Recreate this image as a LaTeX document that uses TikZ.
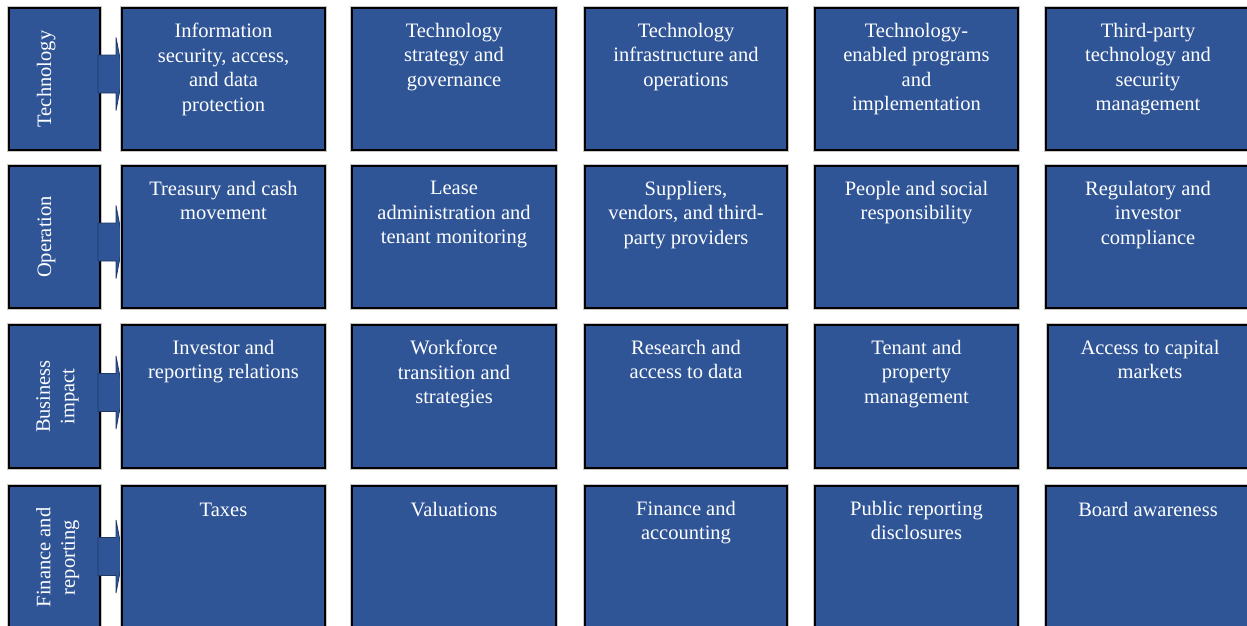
\documentclass[tikz,border=0pt]{standalone}
\usepackage{fontspec}
\setmainfont{Liberation Serif}
\definecolor{boxblue}{RGB}{47,85,151}
\definecolor{arrowedge}{RGB}{31,56,100}
\tikzset{
  box/.style={draw=black, line width=1.6pt, fill=boxblue, inner sep=0pt, outer sep=0pt,
    preaction={draw=gray!45, line width=3.6pt}},
  txt/.style={text=white, align=center, inner sep=0pt, anchor=north,
    font=\fontsize{20.5}{24.5}\selectfont, execute at begin node={\rule{0pt}{15pt}}},
  labtxt/.style={txt, rotate=90},
  blockarrow/.style={fill=boxblue, draw=arrowedge, line width=0.8pt, line join=miter}
}
% name, x1, y1, x2, y2, text
\newcommand{\cbox}[6]{%
  \node[box, minimum width={(#4-#2)*1pt}, minimum height={(#5-#3)*1pt}] (#1) at ({(#2+#4)/2},{(#3+#5)/2}) {};
  \node[txt] (#1t) at ({(#2+#4)/2},{#3+15}) {#6};}
\newcommand{\lbox}[6]{%
  \node[box, minimum width={(#4-#2)*1pt}, minimum height={(#5-#3)*1pt}] (#1) at ({(#2+#4)/2},{(#3+#5)/2}) {};
  \node[labtxt] (#1t) at (36,{(#3+#5)/2}) {#6};}
% arrow from label (#1) to box (#2) with centre y #3
\newcommand{\barrow}[3]{%
  \coordinate (#1a) at (#1.east |- 0,#3);
  \draw[blockarrow] ($(#1a)+(-2,-19)$) -- ($(#1a)+(16,-19)$) -- ($(#1a)+(16,-36.5)$)
    -- (#2.west |- #1a) -- ($(#1a)+(16,36.5)$) -- ($(#1a)+(16,19)$) -- ($(#1a)+(-2,19)$) -- cycle;}
\usetikzlibrary{calc}
\begin{document}
\begin{tikzpicture}[x=1pt,y=-1pt]
\useasboundingbox (0,0) rectangle (1247,625);
\clip (0,0) rectangle (1247,625);
% invisible helpers for arrow end points (content boxes first, so arrows go under)
% Row 1
\lbox{L1}{9}{8}{100}{150}{Technology}
\coordinate (C1w) at (123,79);
\coordinate (C2w) at (123,237);
\coordinate (C3w) at (123,396);
\coordinate (C4w) at (123,557);
\barrow{L1}{C1w}{74}
\lbox{L2}{9}{166}{100}{308}{Operation}
\barrow{L2}{C2w}{242}
\lbox{L3}{9}{325}{100}{468}{Business\\impact}
\barrow{L3}{C3w}{392.5}
\lbox{L4}{9}{486}{100}{629}{Finance and\\reporting}
\barrow{L4}{C4w}{556.5}
% Row 1
\cbox{b11}{122}{8}{325}{150}{Information\\security, access,\\and data\\protection}
\cbox{b12}{352}{8}{556}{150}{Technology\\strategy and\\governance}
\cbox{b13}{585}{8}{787}{150}{Technology\\infrastructure and\\operations}
\cbox{b14}{815}{8}{1018}{150}{Technology-\\enabled programs\\and\\implementation}
\cbox{b15}{1046}{8}{1250}{150}{Third-party\\technology and\\security\\management}
% Row 2
\cbox{b21}{122}{166}{325}{308}{Treasury and cash\\movement}
\cbox{b22}{352}{166}{556}{308}{Lease\\administration and\\tenant monitoring}
\cbox{b23}{585}{166}{787}{308}{Suppliers,\\vendors, and third-\\party providers}
\cbox{b24}{815}{166}{1018}{308}{People and social\\responsibility}
\cbox{b25}{1046}{166}{1250}{308}{Regulatory and\\investor\\compliance}
% Row 3
\cbox{b31}{122}{325}{325}{468}{Investor and\\reporting relations}
\cbox{b32}{352}{325}{556}{468}{Workforce\\transition and\\strategies}
\cbox{b33}{585}{325}{787}{468}{Research and\\access to data}
\cbox{b34}{815}{325}{1018}{468}{Tenant and\\property\\management}
\cbox{b35}{1048}{325}{1252}{468}{Access to capital\\markets}
% Row 4
\cbox{b41}{122}{486}{325}{629}{Taxes}
\cbox{b42}{352}{486}{556}{629}{Valuations}
\cbox{b43}{585}{486}{787}{629}{Finance and\\accounting}
\cbox{b44}{815}{486}{1018}{629}{Public reporting\\disclosures}
\cbox{b45}{1046}{486}{1250}{629}{Board awareness}
\end{tikzpicture}
\end{document}
